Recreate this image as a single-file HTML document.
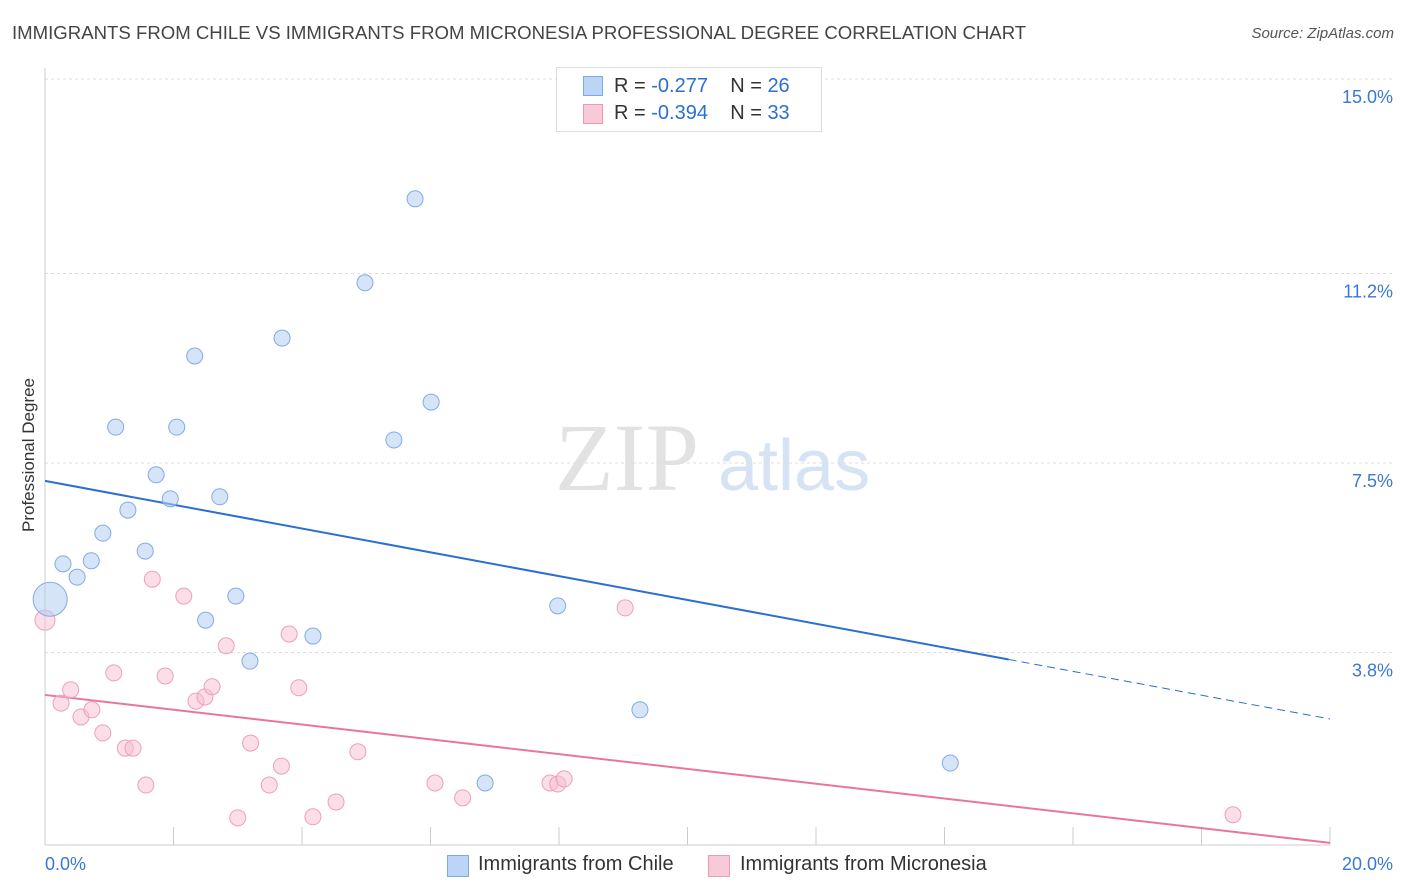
<!DOCTYPE html>
<html><head><meta charset="utf-8"><style>
body{margin:0;background:#fff;font-family:"Liberation Sans",sans-serif}
#wrap{position:relative;width:1406px;height:892px;overflow:hidden}
.t{position:absolute;white-space:nowrap}
</style></head><body>
<div id="wrap">
<div class="t" style="left:12px;top:22px;font-size:18.6px;color:#444">IMMIGRANTS FROM CHILE VS IMMIGRANTS FROM MICRONESIA PROFESSIONAL DEGREE CORRELATION CHART</div>
<div class="t" style="right:12px;top:25px;font-size:15px;color:#555;font-style:italic">Source: ZipAtlas.com</div>
<div class="t" style="left:-48px;top:445px;font-size:17px;color:#333;transform:rotate(-90deg)">Professional Degree</div>
<svg id="svg" width="1406" height="892" style="position:absolute;left:0;top:0"></svg>
<div style="position:absolute;left:556px;top:67px;width:264px;height:63px;border:1px solid #ddd;background:#fff;font-size:20px">
<div style="position:absolute;left:26px;top:8px;width:18px;height:18px;background:#bcd4f5;border:1px solid #7ea9e6"></div>
<div class="t" style="left:57px;top:7px;color:#333">R = <span style="color:#2a6fd1">-0.277</span>&nbsp;&nbsp;&nbsp; N = <span style="color:#2a6fd1">26</span></div>
<div style="position:absolute;left:26px;top:36px;width:18px;height:18px;background:#f8c9d7;border:1px solid #ec99b3"></div>
<div class="t" style="left:57px;top:34px;color:#333">R = <span style="color:#2a6fd1">-0.394</span>&nbsp;&nbsp;&nbsp; N = <span style="color:#2a6fd1">33</span></div>
</div>
<div style="position:absolute;left:447px;top:853px;font-size:20px;color:#333">
<div style="position:absolute;left:0;top:2px;width:20px;height:20px;background:#bcd4f5;border:1px solid #7ea9e6"></div><span class="t" style="left:31px;top:0">Immigrants from Chile</span></div>
<div style="position:absolute;left:708px;top:853px;font-size:20px;color:#333">
<div style="position:absolute;left:0;top:2px;width:20px;height:20px;background:#f8c9d7;border:1px solid #ec99b3"></div><span class="t" style="left:32px;top:0">Immigrants from Micronesia</span></div>
</div>
<script>
const chileX=[0.08,0.28,0.5,0.72,0.9,1.1,1.29,1.56,1.73,1.95,2.05,2.33,2.5,2.72,2.97,3.19,3.69,4.17,4.98,5.43,5.76,6.01,6.85,7.98,9.26,14.09];
const chileY=[4.84,5.53,5.27,5.59,6.13,8.2,6.58,5.78,7.27,6.8,8.2,9.59,4.43,6.84,4.9,3.63,9.94,4.12,11.02,7.95,12.66,8.69,1.25,4.71,2.68,1.64];
const micX=[0,0.25,0.4,0.56,0.73,0.9,1.07,1.25,1.37,1.57,1.67,1.87,2.16,2.35,2.49,2.6,2.82,3.0,3.2,3.49,3.68,3.8,3.95,4.17,4.53,4.87,6.07,6.5,7.86,7.98,8.08,9.03,18.49];
const micY=[4.43,2.81,3.07,2.54,2.68,2.23,3.4,1.93,1.93,1.21,5.23,3.34,4.9,2.85,2.93,3.13,3.93,0.57,2.03,1.21,1.58,4.16,3.11,0.59,0.88,1.86,1.25,0.96,1.25,1.23,1.33,4.67,0.63];
const chileTrend=[7.15,2.5];
const micTrend=[2.97,0.08];
const yTicks=[3.8,7.5,11.2,15.0];
const yTickLabels=["3.8%","7.5%","11.2%","15.0%"];
const xTicks=[0,2,4,6,8,10,12,14,16,18,20];
const sx=v=>45+v*64.25, sy=v=>847-v*51.2;
const svg=document.getElementById('svg'),NS='http://www.w3.org/2000/svg';
function mk(tag,a,name){const e=document.createElementNS(NS,tag);for(const k in a)e.setAttribute(k,a[k]);


svg.appendChild(e);return e;}
let w=mk('text',{x:555,y:490,'font-size':96,'font-family':'Liberation Serif',fill:'#e2e2e2'},'watermark-zip');w.textContent='ZIP';
w=mk('text',{x:718,y:490,'font-size':72,'font-family':'Liberation Sans',fill:'#d6e3f5'},'watermark-atlas');w.textContent='atlas';
yTicks.forEach((v,i)=>{mk('line',{x1:45,x2:1393,y1:sy(v),y2:sy(v),stroke:'#ddd','stroke-dasharray':'3,3'},'y-gridline');
const t=mk('text',{x:1393,y:sy(v)+24,'text-anchor':'end','font-size':18,fill:'#3a78d4'},'y-tick-label');t.textContent=yTickLabels[i];});
mk('line',{x1:45,x2:45,y1:68,y2:845,stroke:'#ccc'},'y-axis');
mk('line',{x1:45,x2:1330,y1:845,y2:845,stroke:'#ccc'},'x-axis');
xTicks.forEach(v=>mk('line',{x1:sx(v),x2:sx(v),y1:827,y2:845,stroke:'#ccc'},'x-tick'));
let t=mk('text',{x:45,y:870,'font-size':18,fill:'#3a78d4'},'x-label-min');t.textContent='0.0%';
t=mk('text',{x:1393,y:870,'text-anchor':'end','font-size':18,fill:'#3a78d4'},'x-label-max');t.textContent='20.0%';
const cx1=15;const cyAt=x=>chileTrend[0]+(chileTrend[1]-chileTrend[0])*x/20;
mk('line',{x1:sx(0),y1:sy(cyAt(0)),x2:sx(cx1),y2:sy(cyAt(cx1)),stroke:'#2a6fd1','stroke-width':2},'chile-trend-line');
mk('line',{x1:sx(cx1),y1:sy(cyAt(cx1)),x2:sx(20),y2:sy(cyAt(20)),stroke:'#2a6fd1','stroke-width':1,'stroke-dasharray':'8,5'},'chile-trend-dashed');
mk('line',{x1:sx(0),y1:sy(micTrend[0]),x2:sx(20),y2:sy(micTrend[1]),stroke:'#e8769c','stroke-width':2},'micronesia-trend-line');
micX.forEach((x,i)=>mk('circle',{cx:sx(x),cy:sy(micY[i]),r:i==0?10:8,fill:'rgba(248,190,208,0.5)',stroke:'#eea0b8','stroke-width':1},'micronesia-point'));
chileX.forEach((x,i)=>mk('circle',{cx:sx(x),cy:sy(chileY[i]),r:i==0?17:8,fill:'rgba(180,205,243,0.55)',stroke:'#82abe6','stroke-width':1},'chile-point'));
</script>
</body></html>
